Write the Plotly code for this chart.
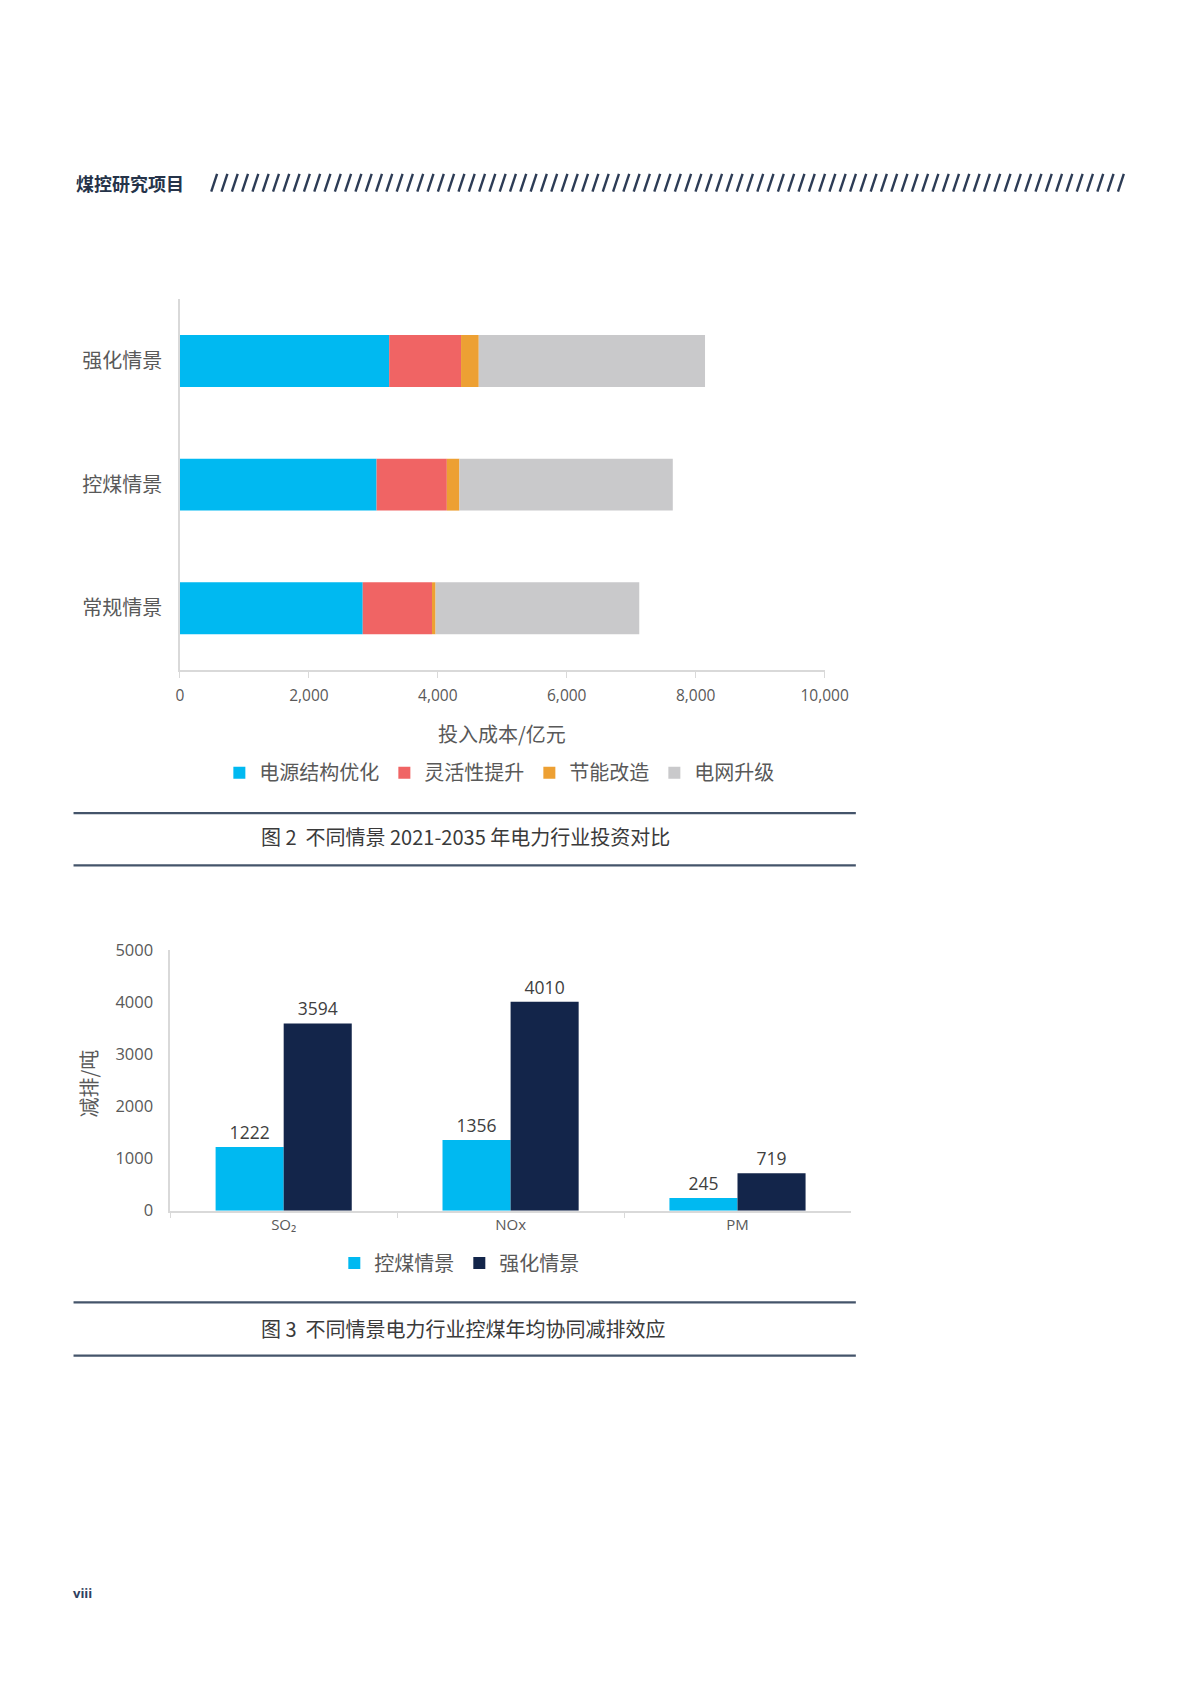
import numpy as np
import plotly.graph_objects as go

W, H = 1200, 1698

# Fig. 2: investment 2021-2035 (100 million yuan)
scenarios = ["常规情景", "控煤情景", "强化情景"]
invest_items = ["电源结构优化", "灵活性提升", "节能改造", "电网升级"]
power_mix = [2835, 3050, 3245]
flexibility = [1075, 1090, 1115]
efficiency = [55, 195, 275]
grid_upgrade = [3160, 3310, 3510]
invest_colors = ["#00B9F1", "#F06464", "#EDA033", "#C9C9CB"]

# Fig. 3: annual co-benefit emission reduction (t)
pollutants = ["SO₂", "NOx", "PM"]
kongmei = [1222, 1356, 245]
qianghua = [3594, 4010, 719]
emis_names = ["控煤情景", "强化情景"]
emis_colors = ["#00B9F1", "#13254A"]

CJK = "Noto Sans CJK SC"
NUM = "Open Sans, Noto Sans CJK SC"
GREY_TXT = "#595959"
AXIS = "#D9D9D9"


def px(x):
    return x / W


def py(y):
    return 1 - y / H


fig = go.Figure()

# stacked horizontal bars, drawn with base so that fig 3 can stay grouped
series = [power_mix, flexibility, efficiency, grid_upgrade]
bases = np.cumsum([[0, 0, 0]] + series[:-1], axis=0)
for name, vals, base, col in zip(invest_items, series, bases, invest_colors):
    fig.add_trace(go.Bar(
        y=scenarios, x=vals, base=base, orientation="h", name=name,
        marker=dict(color=col, line_width=0), width=0.42,
        offsetgroup="inv", xaxis="x", yaxis="y", legend="legend"))

for name, vals, col in zip(emis_names, [kongmei, qianghua], emis_colors):
    fig.add_trace(go.Bar(
        x=pollutants, y=vals, name=name, marker=dict(color=col, line_width=0),
        text=vals, textposition="outside", cliponaxis=False,
        textfont=dict(family=NUM, size=17.5, color="#404040"),
        xaxis="x2", yaxis="y2", legend="legend2"))

shapes = []
# header hatch
x = 204
while x < 1141:
    shapes.append(dict(type="line", xref="paper", yref="paper",
                       x0=px(x), x1=px(x + 6), y0=py(174), y1=py(156),
                       line=dict(color="#2C3B55", width=2.4)))
    x += 10.55
# caption rules
for yy in [804, 857, 1300, 1354]:
    shapes.append(dict(type="line", xref="paper", yref="paper",
                       x0=px(63), x1=px(864), y0=py(yy), y1=py(yy),
                       line=dict(color="#44546A", width=2.2)))

annotations = [
    dict(text="<b>煤控研究项目</b>", x=px(63), y=py(165), xanchor="left",
         font=dict(family=CJK, size=18, color="#253349")),
    dict(text="投入成本/亿元", x=px(502), y=py(723),
         font=dict(family=CJK, size=20, color=GREY_TXT)),
    dict(text="图 2  不同情景 2021-2035 年电力行业投资对比", x=px(464), y=py(828),
         font=dict(family=CJK, size=20, color="#3A3A3A")),
    dict(text="减排/吨", x=px(78), y=py(1078), textangle=-90,
         font=dict(family=CJK, size=20, color=GREY_TXT)),
    dict(text="图 3  不同情景电力行业控煤年均协同减排效应", x=px(462), y=py(1326),
         font=dict(family=CJK, size=20, color="#3A3A3A")),
    dict(text="<b>viii</b>", x=px(60), y=py(1595), xanchor="left",
         font=dict(family="Open Sans", size=13, color="#2F4060")),
]
for a in annotations:
    a.update(xref="paper", yref="paper", showarrow=False, yanchor="middle")
    a.setdefault("xanchor", "center")

fig.update_layout(
    width=W, height=H, margin=dict(l=0, r=0, t=0, b=0),
    paper_bgcolor="white", plot_bgcolor="white",
    barmode="group", bargap=0.4, bargroupgap=0,
    showlegend=True,
    font=dict(family=NUM, color=GREY_TXT),
    xaxis=dict(domain=[px(172), px(832)], anchor="y", range=[0, 10000],
               dtick=2000, tickformat=",", showgrid=False, zeroline=False,
               showline=True, linecolor=AXIS, linewidth=1.5,
               ticks="outside", ticklen=6, tickcolor=AXIS,
               ticklabelstandoff=5,
               tickfont=dict(family=NUM, size=15.5, color=GREY_TXT)),
    yaxis=dict(domain=[py(659), py(283)], anchor="x", showgrid=False,
               zeroline=False, showline=True, linecolor=AXIS, linewidth=1.5,
               ticks="", ticklabelstandoff=12,
               tickfont=dict(family=CJK, size=20, color=GREY_TXT)),
    xaxis2=dict(domain=[px(162), px(859)], anchor="y2", showgrid=False,
                showline=True, linecolor=AXIS, linewidth=1.5,
                ticks="outside", tickson="boundaries", ticklen=6,
                tickcolor=AXIS,
                tickfont=dict(family=NUM, size=15, color=GREY_TXT)),
    yaxis2=dict(domain=[py(1207), py(943)], anchor="x2", range=[0, 5000],
                dtick=1000, showgrid=False, zeroline=False, showline=True,
                linecolor=AXIS, linewidth=1.5, ticks="", ticklabelstandoff=12,
                tickfont=dict(family=NUM, size=16.5, color=GREY_TXT)),
    legend=dict(orientation="h", x=px(499), xanchor="center", y=py(763),
                yanchor="middle", traceorder="normal", itemwidth=30,
                font=dict(family=CJK, size=20, color=GREY_TXT)),
    legend2=dict(orientation="h", x=px(458), xanchor="center", y=py(1260),
                 yanchor="middle", traceorder="normal", itemwidth=30,
                 font=dict(family=CJK, size=20, color=GREY_TXT)),
    shapes=shapes, annotations=annotations,
)

fig.write_html("out.html")
